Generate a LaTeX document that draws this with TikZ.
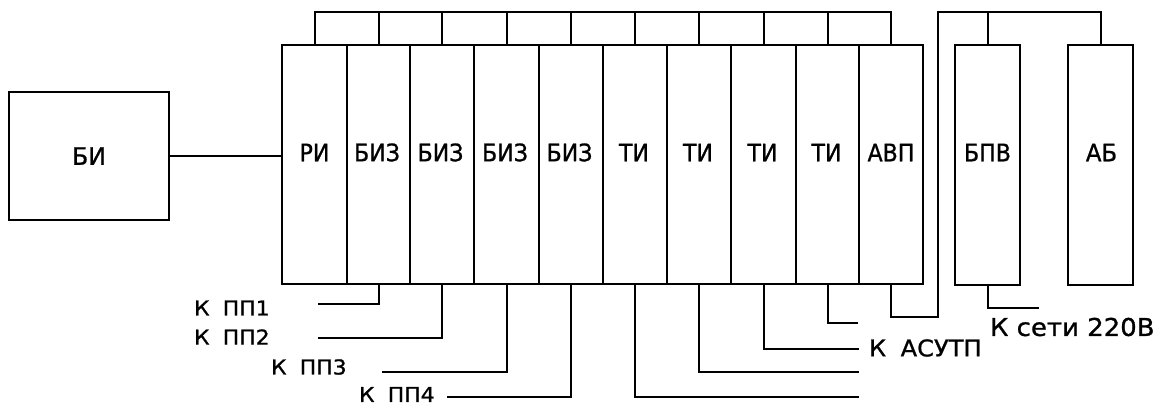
\documentclass[tikz,border=0pt]{standalone}
\usepackage{fontspec}
\setmainfont{DejaVu Sans}[FakeBold=1]
\usepackage{graphicx}
\newcommand\sx[2]{\scalebox{#1}[1]{#2}}
\begin{document}
\begin{tikzpicture}[x=1pt,y=-1pt,line width=2pt,
  blk/.style={draw,minimum height=239pt,inner sep=0pt,outer sep=0pt},
  lbl/.style={inner sep=0pt,font=\fontsize{24}{28}\selectfont},
  side/.style={inner sep=0pt,anchor=west},
  ppfont/.style={font=\fontsize{20.5}{24}\selectfont}]
\useasboundingbox (0,0) rectangle (1171,407);
% main rack columns
\foreach \i/\a/\b/\t/\d in {1/282/347/РИ/0,2/347/410/БИЗ/-1.5,3/410/474/БИЗ/-1.5,4/474/539/БИЗ/-1.5,5/539/603/БИЗ/-1.5,
    6/603/667/ТИ/-1,7/667/731/ТИ/-1,8/731/796/ТИ/-1,9/796/859/ТИ/-1,10/859/923/АВП/0}{
  \node[blk,minimum width={(\b-\a)*1pt}] (c\i) at ({(\a+\b)/2},164.5) {};
  \node[lbl] (t\i) at ({(\a+\b)/2+\d},152.5) {\sx{0.92}{\t}};
}
% BI
\node[draw,minimum width=160pt,minimum height=128pt,inner sep=0pt,outer sep=0pt,
      font=\fontsize{24}{28}\selectfont] (bi) at (89,156) {\sx{0.98}{БИ}};
% BPV and AB
\node[blk,minimum width=65pt,minimum height=240pt] (bpv) at (987.5,165) {};
\node[lbl] (tbpv) at (987.5,152.5) {\sx{0.92}{БПВ}};
\node[blk,minimum width=65pt,minimum height=240pt] (ab) at (1100.5,165) {};
\node[lbl] (tab) at (1101.5,152.5) {\sx{0.95}{АБ}};
% BI to rack
\draw (bi.east) -- (bi.east -| c1.west);
% top bus
\coordinate (bus) at (0,12);
\draw (c1.north) |- (bus -| c10.north) -- (c10.north);
\foreach \i in {2,...,9} \draw (c\i.north) -- (c\i.north |- bus);
% AVP to power bus
\coordinate (j1) at (938,317);
\coordinate (j2) at (938,12);
\draw (c10.south) |- (j1) -- (j2) -| (ab.north);
\draw (bpv.north) -- (bpv.north |- j2);
% BPV to mains
\coordinate (e10) at (1039,308);
\draw (bpv.south) |- (e10);
% outputs
\coordinate (e2) at (318,304);
\coordinate (e3) at (318,338);
\coordinate (e4) at (382,372);
\coordinate (e5) at (447,397);
\coordinate (e6) at (859,397);
\coordinate (e7) at (859,372);
\coordinate (e8) at (859,349);
\coordinate (e9) at (858,323);
\foreach \i in {2,...,9} \draw (c\i.south) |- (e\i);
% labels
\node[side,ppfont] (l1) at (193,308) {\sx{1.07}{К\hspace{0.6em}ПП1}};
\node[side,ppfont] (l2) at (193,337) {\sx{1.07}{К\hspace{0.6em}ПП2}};
\node[side,ppfont] (l3) at (270,367) {\sx{1.07}{К\hspace{0.6em}ПП3}};
\node[side,ppfont] (l4) at (358,394.5) {\sx{1.07}{К\hspace{0.6em}ПП4}};
\node[side,font=\fontsize{23}{27}\selectfont] (l5) at (868,348) {\sx{1.05}{К\hspace{0.6em}АСУТП}};
\node[side,font=\fontsize{24.5}{28}\selectfont] (l6) at (989,327) {\sx{1.06}{К сети 220В}};
\end{tikzpicture}
\end{document}
